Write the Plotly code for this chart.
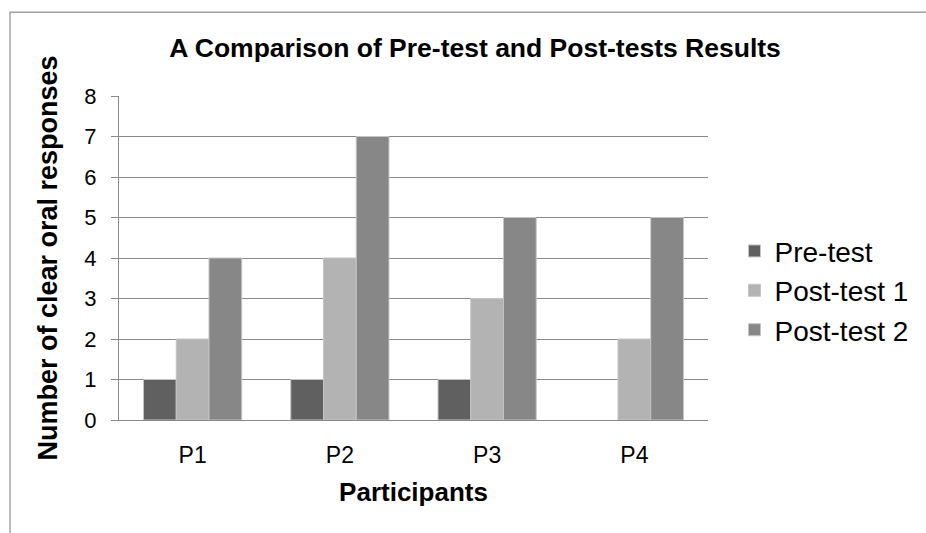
import plotly.graph_objects as go

# Data
participants = ["P1", "P2", "P3", "P4"]
pre_test = [1, 1, 1, 0]
post_test_1 = [2, 4, 3, 2]
post_test_2 = [4, 7, 5, 5]
y_ticks = [0, 1, 2, 3, 4, 5, 6, 7, 8]

series = [
    ("Pre-test", pre_test, "#606060"),
    ("Post-test 1", post_test_1, "#b3b3b3"),
    ("Post-test 2", post_test_2, "#878787"),
]

FONT = "Liberation Sans, Arial, sans-serif"
GRID = "#8a8a8a"

fig = go.Figure()
for name, values, color in series:
    fig.add_trace(go.Bar(
        x=participants, y=values, name=name,
        marker=dict(
            color=color,
            # no outline on empty bars, so a zero value draws nothing
            line=dict(color="#c4c4c4", width=[1 if v else 0 for v in values]),
        ),
    ))

fig.update_layout(
    width=926, height=533,
    margin=dict(l=119, r=218, t=96, b=113),
    paper_bgcolor="white", plot_bgcolor="white",
    barmode="group", bargap=0.333, bargroupgap=0,
    font=dict(family=FONT, color="black"),
    title=dict(
        text="<b>A Comparison of Pre-test and Post-tests Results</b>",
        font=dict(size=26.5, family=FONT, color="black"),
        x=0.513, xanchor="center", xref="container",
        y=0.91, yanchor="middle", yref="container",
    ),
    xaxis=dict(
        showline=True, linecolor=GRID, linewidth=1,
        ticks="", tickfont=dict(size=23), ticklabelstandoff=14,
        title=dict(text="<b>Participants</b>", font=dict(size=26), standoff=16),
    ),
    yaxis=dict(
        range=[0, 8], tickvals=y_ticks,
        showline=True, linecolor=GRID, linewidth=1,
        showgrid=True, gridcolor=GRID, gridwidth=1,
        ticks="outside", ticklen=7, tickcolor=GRID,
        tickfont=dict(size=22), ticklabelstandoff=10, zeroline=False,
        title=dict(text="<b>Number of clear oral responses</b>", font=dict(size=27), standoff=18),
    ),
    legend=dict(
        x=1.045, y=0.399, xanchor="left", yanchor="middle",
        font=dict(size=28), itemclick=False,
        tracegroupgap=0,
    ),
    showlegend=True,
)

# Chart-area frame, running off the right and bottom edges
fig.add_shape(
    type="rect", xref="paper", yref="paper",
    x0=(10 - 119) / 589, x1=(940 - 119) / 589,
    y0=(420.5 - 545) / 324.5, y1=(420.5 - 12) / 324.5,
    line=dict(color="#a0a0a0", width=1.5), fillcolor="rgba(0,0,0,0)", layer="below",
)

fig.write_html("out.html")
